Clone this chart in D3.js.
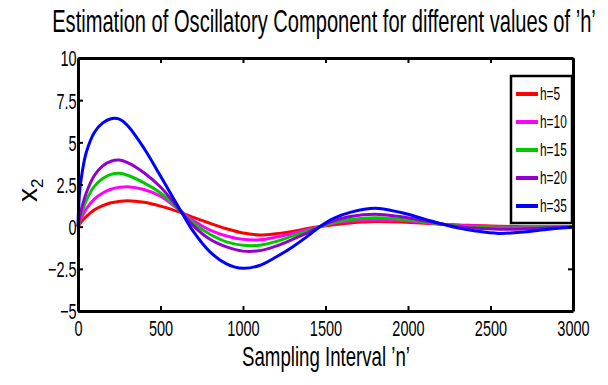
<!DOCTYPE html>
<html>
<head>
<meta charset="utf-8">
<script src="https://cdn.jsdelivr.net/npm/d3@7/dist/d3.min.js"></script>
<style>
  html, body { margin: 0; padding: 0; background: #fff; }
  svg { display: block; }
  text { font-family: "Liberation Sans", Arial, Helvetica, sans-serif; fill: #000; }
</style>
</head>
<body>
<svg id="chart" width="608" height="385"></svg>
<script>
// Sample positions n (shared by every series)
const nValues = [0, 10, 25, 50, 100, 150, 200, 250, 300, 400, 500, 625, 700, 800, 900, 1000, 1100,
  1200, 1300, 1400, 1465, 1550, 1650, 1800, 1950, 2100, 2210, 2300, 2400, 2550, 2700, 2850, 3000];

// Estimated oscillatory component x2 for each window length h
const h5  = [0, 0.15, 0.35, 0.6, 1.0, 1.25, 1.42, 1.5, 1.54, 1.45, 1.22, 0.83, 0.55, 0.2, -0.12, -0.38, -0.49,
  -0.42, -0.28, -0.1, 0, 0.12, 0.22, 0.3, 0.28, 0.2, 0.15, 0.1, 0.07, 0.03, 0, -0.01, -0.01];
const h10 = [0, 0.27, 0.6, 1.05, 1.65, 2.0, 2.22, 2.33, 2.37, 2.2, 1.8, 0.9, 0.35, -0.2, -0.55, -0.75, -0.78,
  -0.62, -0.4, -0.15, 0, 0.2, 0.33, 0.43, 0.38, 0.25, 0.15, 0.08, 0.05, 0, -0.03, -0.03, -0.01];
const h15 = [0, 0.4, 0.9, 1.55, 2.4, 2.85, 3.1, 3.16, 3.05, 2.6, 2.0, 0.9, 0.2, -0.45, -0.9, -1.1, -1.1,
  -0.88, -0.55, -0.22, 0, 0.25, 0.43, 0.53, 0.45, 0.28, 0.15, 0.04, -0.02, -0.08, -0.08, -0.05, -0.02];
const h20 = [0, 0.55, 1.2, 2.0, 3.05, 3.6, 3.88, 3.95, 3.8, 3.2, 2.35, 0.9, 0.05, -0.75, -1.2, -1.45, -1.42,
  -1.15, -0.75, -0.32, 0, 0.35, 0.6, 0.73, 0.6, 0.35, 0.15, 0.0, -0.08, -0.15, -0.13, -0.07, -0.02];
const h35 = [0, 2.1, 3.2, 4.4, 5.6, 6.15, 6.4, 6.38, 6.0, 4.65, 3.0, 0.9, -0.3, -1.5, -2.2, -2.47, -2.3,
  -1.8, -1.2, -0.5, 0, 0.5, 0.85, 1.09, 0.85, 0.45, 0.15, -0.07, -0.24, -0.4, -0.32, -0.15, -0.02];

const seriesNames = ["h=5", "h=10", "h=15", "h=20", "h=35"];
const seriesValues = [h5, h10, h15, h20, h35];
const seriesColors = ["#ff0000", "#ff00ff", "#00c800", "#9400cc", "#0000ff"];

const xTicks = [0, 500, 1000, 1500, 2000, 2500, 3000];
const yTicks = [-5, -2.5, 0, 2.5, 5, 7.5, 10];
const yTickLabels = ["\u22125", "\u22122.5", "0", "2.5", "5", "7.5", "10"];

const titleText = "Estimation of Oscillatory Component for different values of \u2019h\u2019";
const xLabelText = "Sampling Interval \u2019n\u2019";

// Plot frame
const W = 608, H = 385;
const margin = { left: 78, right: 35, top: 58, bottom: 74 };
const pw = W - margin.left - margin.right;
const ph = H - margin.top - margin.bottom;
const SX = 0.66; // condensed lettering

const svg = d3.select("#chart");
const g = svg.append("g").attr("transform", `translate(${margin.left},${margin.top})`);

const x = d3.scaleLinear().domain([0, 3000]).range([0, pw]);
const y = d3.scaleLinear().domain([-5, 10]).range([ph, 0]);

// Curves (drawn first so the frame sits on top)
const line = d3.line()
  .x(d => x(d[0]))
  .y(d => y(d[1]))
  .curve(d3.curveCatmullRom.alpha(0.5));

seriesValues.forEach((vals, i) => {
  g.append("path")
    .datum(nValues.map((n, k) => [n, vals[k]]))
    .attr("fill", "none")
    .attr("stroke", seriesColors[i])
    .attr("stroke-width", 3)
    .attr("stroke-linejoin", "round")
    .attr("d", line);
});

// Axes with inward ticks on all four sides
function styleAxis(sel) {
  sel.select(".domain").attr("stroke", "#000").attr("stroke-width", 3);
  sel.selectAll(".tick line").attr("stroke", "#000").attr("stroke-width", 2);
}

const xAxis = g.append("g").attr("transform", `translate(0,${ph})`)
  .call(d3.axisBottom(x).tickValues(xTicks).tickSize(-5).tickSizeOuter(0).tickPadding(9)
    .tickFormat(d3.format("d")));
styleAxis(xAxis);
xAxis.selectAll(".tick text")
  .attr("transform", `scale(${SX},1)`)
  .style("font-size", "22px");

const yAxis = g.append("g")
  .call(d3.axisLeft(y).tickValues(yTicks).tickSize(-5).tickSizeOuter(0).tickPadding(2)
    .tickFormat((d, i) => yTickLabels[i]));
styleAxis(yAxis);
yAxis.selectAll(".tick text")
  .attr("transform", `scale(${SX},1)`)
  .attr("dy", "0.36em")
  .style("font-size", "22px");

const topAxis = g.append("g")
  .call(d3.axisTop(x).tickValues(xTicks).tickSize(-5).tickSizeOuter(0).tickFormat(""));
styleAxis(topAxis);

const rightAxis = g.append("g").attr("transform", `translate(${pw},0)`)
  .call(d3.axisRight(y).tickValues(yTicks).tickSize(-5).tickSizeOuter(0).tickFormat(""));
styleAxis(rightAxis);

// Centred text squeezed horizontally to a given width
function condensedText(str, cx, baseline, size, width) {
  const t = svg.append("text")
    .attr("text-anchor", "middle")
    .style("font-size", size + "px")
    .text(str);
  const natural = t.node().getComputedTextLength();
  t.attr("transform", `translate(${cx},${baseline}) scale(${width / natural},1)`);
  return t;
}

// Title and x axis label
condensedText(titleText, 324, 32, 31, 544);
condensedText(xLabelText, 326, 366, 28, 168);

// Y axis label: x with subscript 2, rotated
const yl = svg.append("text")
  .attr("transform", "translate(37,202) rotate(-90)")
  .style("font-size", "28px");
yl.append("tspan").text("x");
yl.append("tspan").attr("dy", 6).style("font-size", "17px").text("2");

// Legend
const lg = svg.append("g").attr("transform", "translate(511,76)");
lg.append("rect")
  .attr("width", 61).attr("height", 147)
  .attr("fill", "#fff").attr("stroke", "#000").attr("stroke-width", 2.5);
seriesNames.forEach((name, i) => {
  const yy = 18 + i * 28;
  lg.append("line")
    .attr("x1", 5).attr("x2", 27).attr("y1", yy).attr("y2", yy)
    .attr("stroke", seriesColors[i]).attr("stroke-width", 4);
  lg.append("text")
    .attr("transform", `translate(29,${yy + 6}) scale(${SX},1)`)
    .style("font-size", "18px")
    .text(name);
});
</script>
</body>
</html>
